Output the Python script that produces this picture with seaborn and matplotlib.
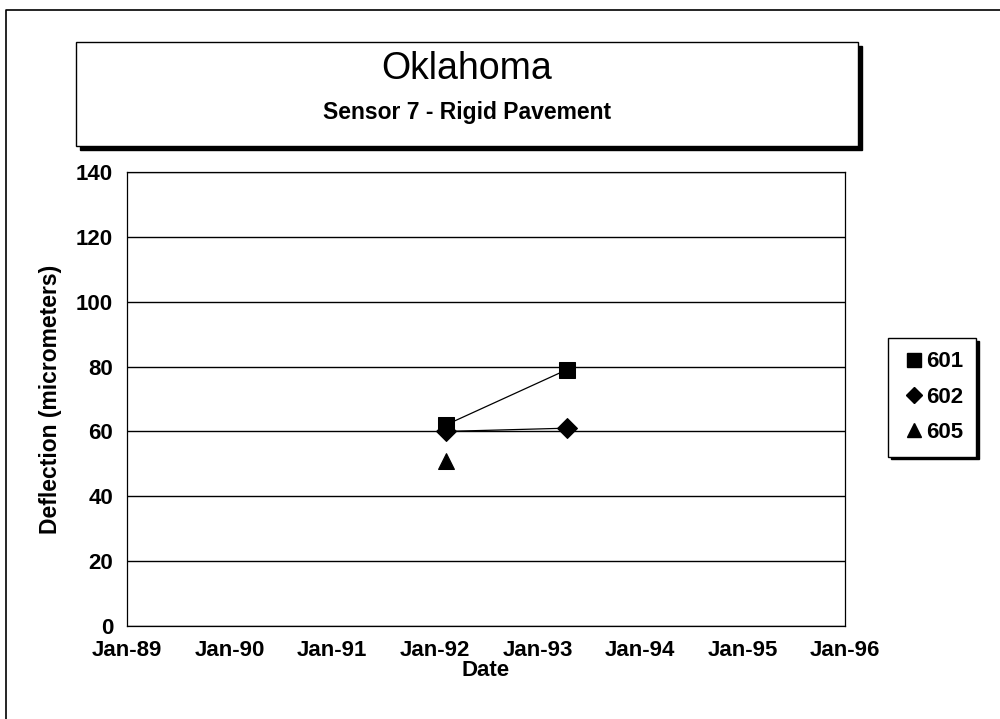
import pandas as pd
import matplotlib
matplotlib.use("Agg")
import matplotlib.pyplot as plt
import matplotlib.dates as mdates
from matplotlib.patches import Rectangle
from matplotlib.lines import Line2D
import seaborn as sns

# Oklahoma - Sensor 7 deflection by test date
sections = ["601", "601", "602", "602", "605"]
test_dates = ["1992-02-10", "1993-04-15", "1992-02-10", "1993-04-15", "1992-02-10"]
deflection = [62, 79, 60, 61, 51]

legend_labels = ["601", "602", "605"]
marker_map = {"601": "s", "602": "D", "605": "^"}
marker_sizes = {"601": 12, "602": 10, "605": 12}

df = pd.DataFrame({"section": sections,
                   "date": pd.to_datetime(test_dates),
                   "deflection": deflection})

sns.set_style("white")
plt.rcParams["font.family"] = ["Liberation Sans", "DejaVu Sans"]
plt.rcParams["text.color"] = "black"
plt.rcParams["axes.labelcolor"] = "black"
plt.rcParams["xtick.color"] = "black"
plt.rcParams["ytick.color"] = "black"

fig = plt.figure(figsize=(10, 7.19), dpi=100)
W, H = 1000, 719
ax = fig.add_axes([127 / W, 1 - 626 / H, (845 - 127) / W, (626 - 172) / H])

for sec in legend_labels:
    sub = df[df["section"] == sec]
    sns.lineplot(data=sub, x="date", y="deflection", ax=ax, color="black",
                 linewidth=0.9, marker=marker_map[sec], markersize=marker_sizes[sec],
                 markeredgecolor="black", legend=False)

ax.set_ylim(0, 140)
ax.set_yticks(range(0, 141, 20))
ax.set_xlim(pd.Timestamp("1989-01-01"), pd.Timestamp("1996-01-01"))
ax.xaxis.set_major_locator(mdates.YearLocator())
ax.xaxis.set_major_formatter(mdates.DateFormatter("%b-%y"))
ax.grid(axis="y", color="black", linewidth=1.0)
ax.grid(axis="x", visible=False)
for s in ax.spines.values():
    s.set_color("black")
    s.set_linewidth(0.9)
ax.tick_params(axis="x", direction="in", length=4, labelsize=16, pad=10)
ax.tick_params(axis="y", length=0, labelsize=16, pad=10)
for lab in ax.get_xticklabels() + ax.get_yticklabels():
    lab.set_fontweight("bold")
ax.set_xlabel("Date", fontsize=16, fontweight="bold", labelpad=-1)
ax.set_ylabel("Deflection (micrometers)", fontsize=16.5, fontweight="bold", labelpad=10)

# legend with markers only
handles = [Line2D([], [], linestyle="none", marker=marker_map[s], color="black",
                  markersize=marker_sizes[s] * 0.85) for s in legend_labels]
leg = fig.legend(handles, legend_labels, loc="upper left",
                 bbox_to_anchor=(888 / W, 1 - 338 / H), frameon=True,
                 shadow={"color": "black", "alpha": 1.0},
                 fancybox=False, prop={"size": 16, "weight": "bold"},
                 handletextpad=0.0, labelspacing=0.65, borderpad=0.6, handlelength=1.1,
                 borderaxespad=0)
leg.get_frame().set_edgecolor("black")
leg.get_frame().set_linewidth(1.0)

# title box with shadow
fig.patches.append(Rectangle((80 / W, 1 - 150 / H), (862 - 80) / W, (150 - 46) / H,
                             transform=fig.transFigure, facecolor="black",
                             edgecolor="black", zorder=1))
fig.patches.append(Rectangle((76 / W, 1 - 146 / H), (858 - 76) / W, (146 - 42) / H,
                             transform=fig.transFigure, facecolor="white",
                             edgecolor="black", linewidth=1.0, zorder=2))
fig.text(467 / W, 1 - 69 / H, "Oklahoma", ha="center", va="center", fontsize=27, zorder=3)
fig.text(467 / W, 1 - 112 / H, "Sensor 7 - Rigid Pavement", ha="center", va="center",
         fontsize=16.5, fontweight="bold", zorder=3)

# outer page border (left and top)
fig.lines.append(Line2D([6 / W, 6 / W, 1.0], [0.0, 1 - 10 / H, 1 - 10 / H],
                        transform=fig.transFigure, color="black", linewidth=1.2))

fig.savefig("out.png", dpi=100)
